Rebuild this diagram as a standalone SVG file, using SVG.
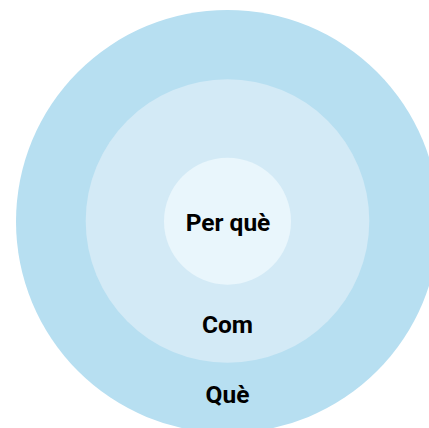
<svg xmlns="http://www.w3.org/2000/svg" width="429" height="428" viewBox="0 0 429 428">
<style>
.lbl{font-family:Roboto,"Liberation Sans",sans-serif;font-weight:bold;font-size:24.5px;fill:#000;text-anchor:middle}
</style>
<rect width="429" height="428" fill="#fff"/>
<g id="que">
<circle cx="227.5" cy="221.5" r="211.5" fill="#B7DFF1"/>
<text class="lbl" x="227.5" y="403">Què</text>
</g>
<g id="com">
<circle cx="227.5" cy="221" r="141.8" fill="#D3EAF6"/>
<text class="lbl" x="227.5" y="333">Com</text>
</g>
<g id="perque">
<circle cx="227.5" cy="221.2" r="63.5" fill="#E9F6FC"/>
<text class="lbl" x="228" y="230.5">Per què</text>
</g>
<g id="connectors"/>
</svg>
